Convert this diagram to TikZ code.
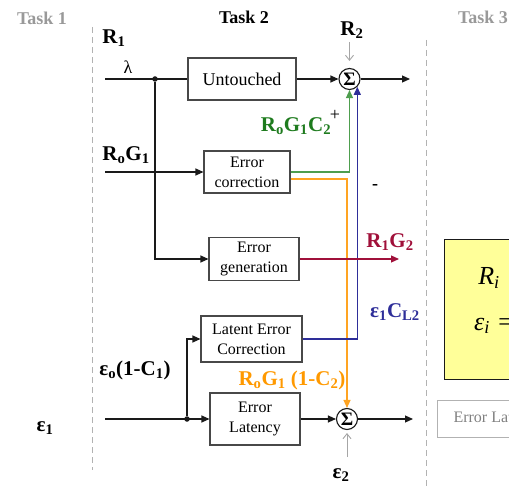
\documentclass[tikz,border=0pt]{standalone}
\usepackage{fontspec}
\setmainfont{Liberation Serif}
\usetikzlibrary{arrows.meta}
\definecolor{inkB}{HTML}{1A1A1A}
\definecolor{taskGray}{HTML}{999999}
\definecolor{corrGreen}{HTML}{1E7B1E}
\definecolor{corrLine}{HTML}{4E9E4E}
\definecolor{latOrange}{HTML}{FF9900}
\definecolor{latLine}{HTML}{FFA422}
\definecolor{genRed}{HTML}{A0103A}
\definecolor{lecBlue}{HTML}{2E2E99}
\definecolor{memYellow}{HTML}{FFFF99}
\newcommand{\pxsize}[1]{\fontsize{#1}{1.25\dimexpr#1pt\relax}\selectfont}
\tikzset{
  plain/.style={inkB, line width=1.1pt},
  flow/.style={plain, -{Triangle[length=8pt,width=7pt]}},
  tinted/.style={#1, line width=1.3pt, -{Triangle[length=8pt,width=7pt]}},
  feed/.style={gray!70, line width=0.9pt, -{Straight Barb[length=5pt,width=8pt]}},
  taskdiv/.style={gray!60, line width=1pt, dash pattern=on 6pt off 4pt},
  stage/.style={rectangle, draw=inkB!80, line width=1.1pt, fill=white,
    align=center, font=\pxsize{16}, inner sep=0pt},
  sumnode/.style={circle, draw=inkB, line width=1.1pt, fill=white,
    minimum size=21pt, inner sep=0pt, font=\bfseries\pxsize{19}},
  junction/.style={circle, fill=inkB, inner sep=0pt, minimum size=5.5pt},
  sig/.style={font=\bfseries\pxsize{21}, inner sep=0pt},
  tasklbl/.style={font=\bfseries\pxsize{18}, inner sep=0pt},
}

\begin{document}
\begin{tikzpicture}[x=1pt, y=-1pt]
  \useasboundingbox (0,0) rectangle (509,489);
  \clip (0,0) rectangle (509,489);
  % task headers and dividers
  \node[tasklbl, taskGray] (task1) at (42,18) {Task 1};
  \node[tasklbl] (task2) at (244,17) {Task 2};
  \node[tasklbl, taskGray] (task3) at (483,17) {Task 3};
  \draw[taskdiv] (92,27) -- (92,470);
  \draw[taskdiv] (426,40) -- (426,486);
  % stages
  \node[stage, font=\pxsize{18}, minimum width=108pt, minimum height=42pt]
    (untouched) at (242,79) {Untouched};
  \node[stage, minimum width=86pt, minimum height=42pt]
    (ecorr) at (247,172) {Error\\correction};
  \node[stage, minimum width=90pt, minimum height=43pt]
    (egen) at (254,259) {Error\\generation};
  \node[stage, minimum width=101pt, minimum height=46pt]
    (lecorr) at (251.5,339) {Latent Error\\Correction};
  \node[stage, minimum width=90pt, minimum height=52pt]
    (elat) at (255,419) {Error\\Latency};
  \node[sumnode] (sum1) at (349.5,79) {Σ};
  \node[sumnode] (sum2) at (347,419) {Σ};
  \node[junction] (split1) at (155,79) {};
  \node[junction] (split2) at (187,419) {};
  % free ends
  \coordinate (lamIn) at (105,79);
  \coordinate (rgIn) at (105,172);
  \coordinate (epsIn) at (105,419);
  \coordinate (out1) at (410,79);
  \coordinate (out2) at (413,419);
  \coordinate (r1g2out) at (399,259);
  \coordinate (r2in) at (349.5,42);
  \coordinate (e2in) at (347,457);
  % signal labels
  \node[sig] (r1) at (114,38) {R\textsubscript{1}};
  \node[font=\pxsize{18}, inner sep=0pt] (lam) at (128,67) {λ};
  \node[sig] (r2) at (352,30) {R\textsubscript{2}};
  \node[sig] (rogin) at (126,155) {R\textsubscript{o}G\textsubscript{1}};
  \node[sig, corrGreen] (rogc) at (296,126)
    {R\textsubscript{o}G\textsubscript{1}C\textsubscript{2}};
  \node[font=\pxsize{18}, inner sep=0pt] (plus) at (335,115) {+};
  \node[font=\bfseries\pxsize{18}, inner sep=0pt] (minus) at (375,187) {-};
  \node[sig, genRed] (r1g2) at (390,242) {R\textsubscript{1}G\textsubscript{2}};
  \node[sig, lecBlue] (e1cl) at (395,312) {ε\textsubscript{1}C\textsubscript{L2}};
  \node[sig] (eoc) at (135,370) {ε\textsubscript{o}(1-C\textsubscript{1})};
  \node[sig, latOrange] (rogl) at (292,380)
    {R\textsubscript{o}G\textsubscript{1} (1-C\textsubscript{2})};
  \node[sig] (e1) at (45,428) {ε\textsubscript{1}};
  \node[sig] (e2) at (341,475) {ε\textsubscript{2}};
  % connectors
  \draw[plain] (lamIn) -- (untouched.west);
  \draw[flow] (untouched.east) -- (sum1.west);
  \draw[flow] (sum1.east) -- (out1);
  \draw[feed, shorten >=7pt] (r2in) -- (sum1.north);
  \draw[flow] (split1) |- (egen.west);
  \draw[flow] (rgIn) -- (ecorr.west);
  \draw[tinted=corrLine] (ecorr.east) -| (sum1.south);
  \draw[tinted=latLine] ([yshift=-7pt]ecorr.east) -| (sum2.north);
  \draw[tinted=lecBlue, line width=1.1pt] (lecorr.east) -| (sum1.south east);
  \draw[tinted=genRed, line width=1.1pt] (egen.east) -- (r1g2out);
  \draw[flow] (epsIn) -- (elat.west);
  \draw[flow] (split2) |- (lecorr.west);
  \draw[flow] (elat.east) -- (sum2.west);
  \draw[flow] (sum2.east) -- (out2);
  \draw[feed, shorten >=3pt] (e2in) -- (sum2.south);
  % task 3 (cut off)
  \node[draw=inkB, line width=1.1pt, fill=memYellow, anchor=north west,
    minimum width=100pt, minimum height=140pt] (memory) at (444,239) {};
  \node[font=\itshape\pxsize{26}, inner sep=0pt] (ri) at (489,278) {R\textsubscript{i}};
  \node[font=\itshape\pxsize{26}, inner sep=0pt, anchor=west] (ei) at (474,326) {ε\textsubscript{i} =};
  \node[draw=gray!60, line width=1pt, text=gray, font=\pxsize{16},
    anchor=north west, inner xsep=16pt, minimum height=37pt] (ghostlat)
    at (437,400) {Error Latency};
\end{tikzpicture}
\end{document}
